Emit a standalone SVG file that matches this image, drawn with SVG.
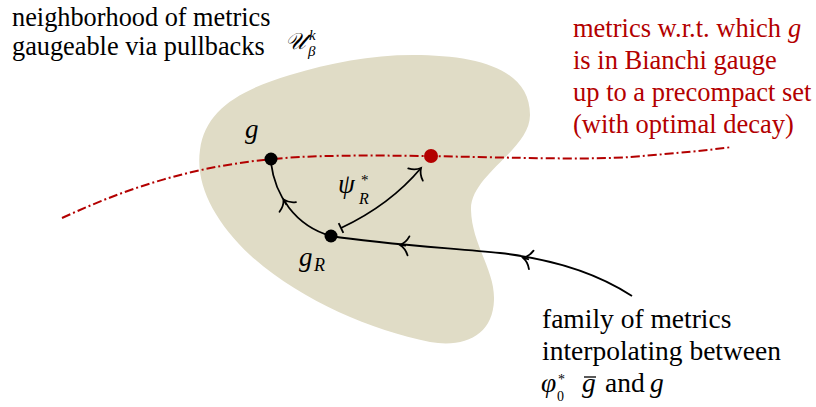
<svg xmlns="http://www.w3.org/2000/svg" width="816" height="407" viewBox="0 0 816 407">
<style>
  .red { fill: #b30000; }
  .it { font-style: italic; }
  .conn { fill: none; stroke: #000; stroke-width: 1.8; }
  .dash { fill: none; stroke: #b30000; stroke-width: 2; stroke-dasharray: 9 3 2 3; }
</style>
<defs>
  <marker id="to" viewBox="-12 -12 16 24" refX="0" refY="0" markerWidth="16" markerHeight="24" markerUnits="userSpaceOnUse" orient="auto" overflow="visible">
    <path d="M -8.5,-9.5 C -6,-3.5 -1.8,-0.9 0,0 C -1.8,0.9 -6,3.5 -8.5,9.5" fill="none" stroke="#000" stroke-width="1.8" stroke-linecap="round"/>
  </marker>
  <marker id="bar" viewBox="-4 -8 8 16" refX="0" refY="0" markerWidth="8" markerHeight="16" markerUnits="userSpaceOnUse" orient="auto" overflow="visible">
    <line x1="0" y1="-5.5" x2="0" y2="5.5" stroke="#000" stroke-width="1.8"/>
  </marker>
</defs>
<rect width="816" height="407" fill="#fff"/>

<g font-family="Liberation Serif, serif" fill="#000">
<g id="region">
  <path d="M 413,55 C 480,55 530,70 530,115 C 530,150 470,175 471,210 C 472,245 495,270 494,300 C 493,335 465,348 430,342 C 370,330 300,300 250,255 C 215,222 195,185 200,150 C 205,110 240,90 290,75 C 330,63 370,55 413,55 Z" fill="#e0dcc6"/>
  <text class="it" x="285" y="49" font-size="23" font-family="DejaVu Serif, serif">𝒰</text>
  <text class="it" x="309" y="40" font-size="15">k</text>
  <text class="it" x="308" y="56" font-size="15">β</text>
</g>

<g id="gauge-line">
  <path class="dash" d="M 62,218 C 140,182 210,162 300,157 C 400,152 560,162 630,157 C 680,153 710,150 732,147"/>
</g>

<g id="connectors">
  <path class="conn" d="M 331,236 C 295,226 275,195 271,163"/>
  <path class="conn" d="M 331,236 C 380,244 450,248 500,253 C 560,260 600,275 632,296"/>
  <path class="conn" d="M 341,228 Q 390,205 421,168" marker-start="url(#bar)" marker-end="url(#to)"/>
  <path class="conn" d="M 286.5,204.8 L 283.5,199.6" marker-end="url(#to)"/>
  <path class="conn" d="M 406,245.6 L 400,245" marker-end="url(#to)"/>
  <path class="conn" d="M 529,259.3 L 523,257.8" marker-end="url(#to)"/>
</g>

<g id="node-g">
  <circle cx="271" cy="159" r="6.5" fill="#000"/>
  <text class="it" x="245" y="138" font-size="27">g</text>
</g>

<g id="node-red">
  <circle cx="431" cy="156" r="7" fill="#b30000"/>
</g>

<g id="node-gR">
  <circle cx="331" cy="236" r="6.5" fill="#000"/>
  <text class="it" x="299" y="266" font-size="27">g</text>
  <text class="it" x="314" y="271" font-size="18">R</text>
</g>

<g id="label-psi">
  <text class="it" x="338" y="193" font-size="27">ψ</text>
  <text x="361" y="185" font-size="15">*</text>
  <text class="it" x="359" y="204" font-size="16">R</text>
</g>

<g id="label-neighborhood">
  <text x="12" y="26" font-size="26.3">neighborhood of metrics</text>
  <text x="12" y="55" font-size="26.3">gaugeable via pullbacks</text>
</g>

<g id="label-bianchi">
  <text class="red" x="573" y="37" font-size="26.5">metrics w.r.t. which <tspan class="it" x="788">g</tspan></text>
  <text class="red" x="573" y="69" font-size="26.5">is in Bianchi gauge</text>
  <text class="red" x="573" y="101" font-size="26.5">up to a precompact set</text>
  <text class="red" x="573" y="133" font-size="26.5">(with optimal decay)</text>
</g>

<g id="label-family">
  <text x="542" y="328" font-size="27.5">family of metrics</text>
  <text x="542" y="360" font-size="27.5">interpolating between</text>
  <text class="it" x="541" y="392" font-size="27.5">φ</text>
  <text x="558" y="384" font-size="14">*</text>
  <text x="557" y="401" font-size="14">0</text>
  <text class="it" x="582" y="392" font-size="27.5">g</text>
  <line x1="584" y1="377" x2="596" y2="377" stroke="#000" stroke-width="1.3"/>
  <text x="605" y="392" font-size="27.5">and</text>
  <text class="it" x="650" y="392" font-size="27.5">g</text>
</g>
</g>
</svg>
